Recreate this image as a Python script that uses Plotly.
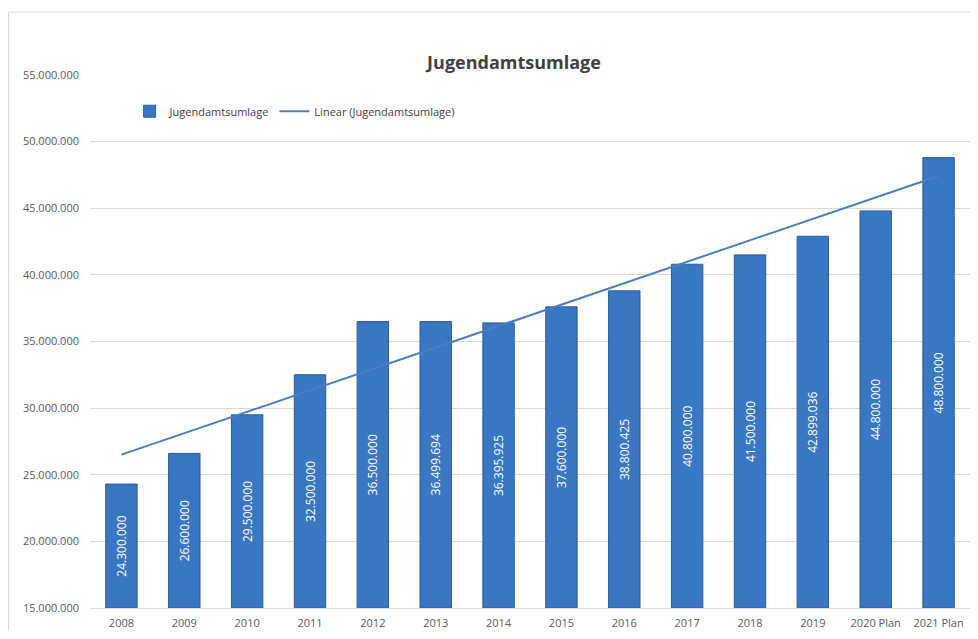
import numpy as np
import plotly.graph_objects as go

# Jugendamtsumlage per year (EUR)
years = ["2008", "2009", "2010", "2011", "2012", "2013", "2014", "2015",
         "2016", "2017", "2018", "2019", "2020 Plan", "2021 Plan"]
values = [24300000, 26600000, 29500000, 32500000, 36500000, 36499694, 36395925,
          37600000, 38800425, 40800000, 41500000, 42899036, 44800000, 48800000]
value_labels = ["24.300.000", "26.600.000", "29.500.000", "32.500.000", "36.500.000",
                "36.499.694", "36.395.925", "37.600.000", "38.800.425", "40.800.000",
                "41.500.000", "42.899.036", "44.800.000", "48.800.000"]
axis_floor = 15000000

# Excel style linear trendline (least squares over category index)
idx = np.arange(1, len(values) + 1)
slope, intercept = np.polyfit(idx, values, 1)
trend = slope * idx + intercept

fig = go.Figure()

# bars start at the axis floor so the labels sit in the visible part
fig.add_trace(go.Bar(
    x=years,
    y=[v - axis_floor for v in values],
    base=axis_floor,
    name="Jugendamtsumlage",
    marker=dict(color="#3A77C2", line=dict(color="#2A5C9C", width=1)),
    text=value_labels,
    textposition="inside",
    insidetextanchor="middle",
    textangle=-90,
    textfont=dict(color="white", size=12, family="Open Sans"),
    customdata=value_labels,
    hovertemplate="%{x}: %{customdata}<extra></extra>",
))

fig.add_trace(go.Scatter(
    x=years,
    y=trend,
    mode="lines",
    name="Linear (Jugendamtsumlage)",
    line=dict(color="#4A7EBB", width=2),
))

fig.update_layout(
    width=962,
    height=623,
    title=dict(text="<b>Jugendamtsumlage</b>", x=0.526, xanchor="center",
               y=0.913, yanchor="middle",
               font=dict(size=18, color="#404040", family="Open Sans")),
    separators=",.",
    bargap=0.5,
    plot_bgcolor="white",
    paper_bgcolor="white",
    margin=dict(l=82, r=0, t=67, b=23),
    font=dict(family="Open Sans", color="#595959", size=11),
    legend=dict(orientation="h", x=0.045, y=0.932, xanchor="left", yanchor="middle",
                bgcolor="rgba(0,0,0,0)", font=dict(size=11, color="#404040"),
                itemwidth=30, traceorder="normal"),
    xaxis=dict(showgrid=False, showline=True, linecolor="#D9D9D9",
               tickfont=dict(size=11, color="#595959"), ticks="",
               ticklabelstandoff=5),
    yaxis=dict(range=[15000000, 55000000], dtick=5000000, tickformat=",d",
               showgrid=True, gridcolor="#D9D9D9", zeroline=False,
               tickfont=dict(size=11, color="#595959"), ticks="",
               ticklabelstandoff=10),
    shapes=[dict(type="rect", xref="paper", yref="paper",
                 x0=-0.0925, x1=1.05, y0=-0.2, y1=1.118,
                 line=dict(color="#D9D9D9", width=1), layer="below")],
)

fig.write_html("out.html")
